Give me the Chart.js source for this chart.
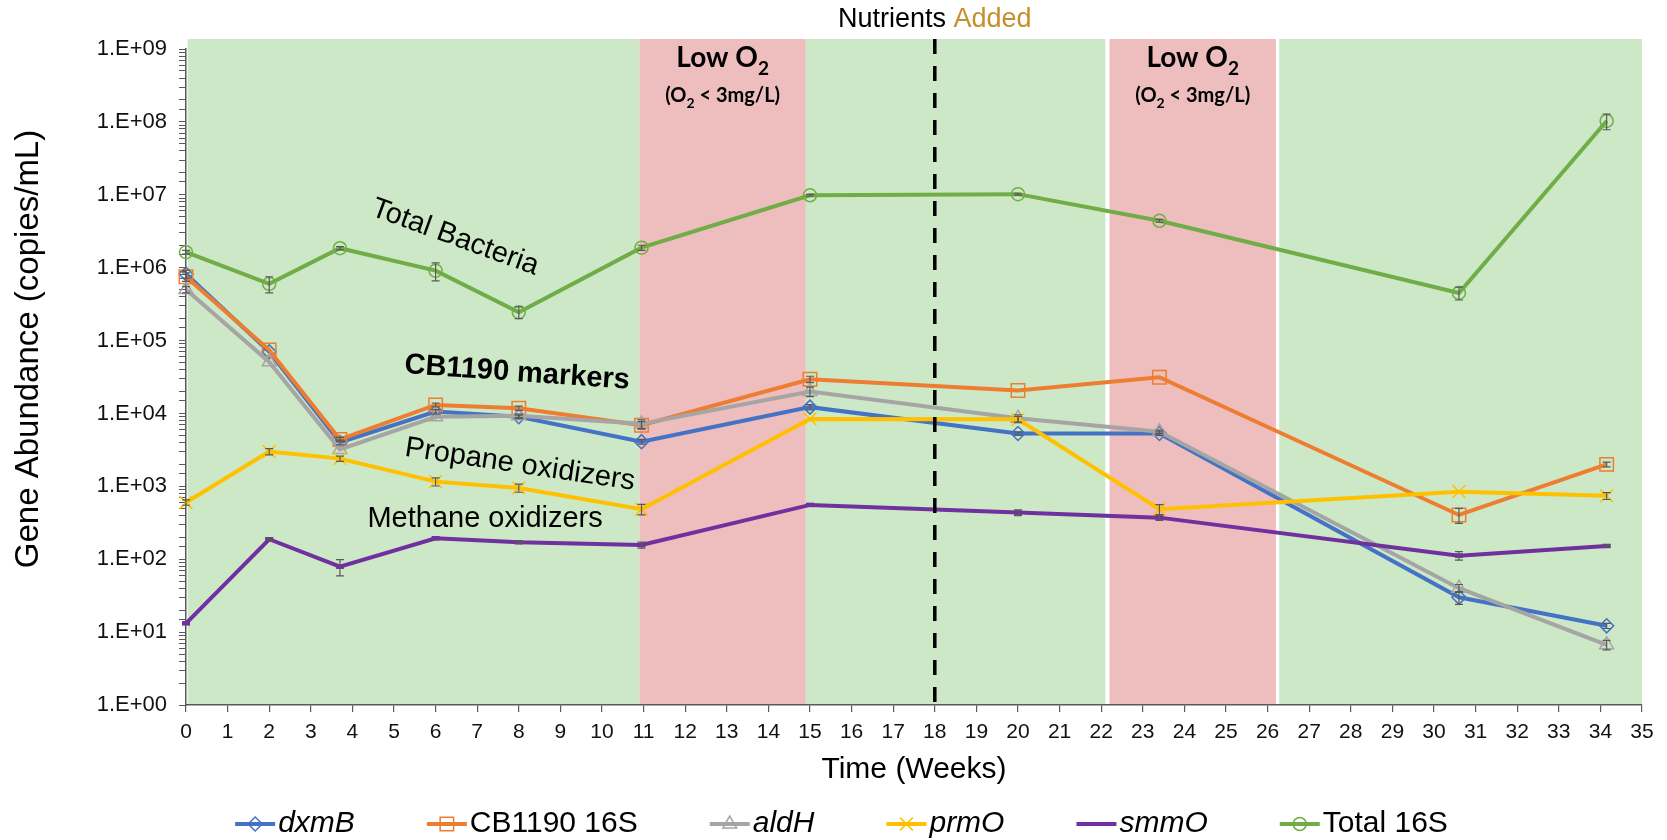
<!DOCTYPE html>
<html>
<head>
<meta charset="utf-8">
<script src="https://cdn.jsdelivr.net/npm/chart.js@4.4.1/dist/chart.umd.min.js"></script>
<style>
  html, body { margin: 0; padding: 0; background: #fff; }
</style>
</head>
<body>
<canvas id="myChart" width="1667" height="840"></canvas>
<script>
// sampling times (weeks)
const weeks = [0, 2, 3.7, 6, 8, 10.95, 15, 20, 23.4, 30.6, 34.15]

// gene abundance (copies/mL) and error (+/-)
const dxmB = [8.2e5, 7.0e4, 4.0e3, 1.06e4, 9.0e3, 4.1e3, 1.22e4, 5.3e3, 5.3e3, 30, 12.2]
const dxmBErr = [1e5, 0, 300, 800, 500, 300, 1000, 300, 300, 6, 1]

const cb1190 = [7.5e5, 7.4e4, 4.4e3, 1.31e4, 1.18e4, 6.9e3, 2.94e4, 2.06e4, 3.14e4, 405, 2.0e3]
const cb1190Err = [1e5, 0, 300, 800, 800, 800, 3000, 0, 0, 95, 150]

const aldH = [5.0e5, 5.1e4, 3.2e3, 9.0e3, 9.3e3, 7.2e3, 2.0e4, 8.6e3, 5.6e3, 40, 6.7]
const aldHErr = [5e4, 0, 0, 0, 500, 1000, 3000, 1000, 300, 5, 1]

const prmO = [600, 3.0e3, 2.4e3, 1.16e3, 950, 485, 8.4e3, 8.3e3, 485, 845, 740]
const prmOErr = [50, 300, 200, 150, 120, 80, 0, 800, 75, 0, 80]

const smmO = [13.2, 188, 79, 194, 171, 157, 556, 436, 372, 112, 152]
const smmOErr = [0, 8, 20, 0, 5, 15, 0, 40, 30, 15, 5]

const total16S = [1.63e6, 6.0e5, 1.85e6, 9.1e5, 2.45e5, 1.88e6, 9.85e6, 1.02e7, 4.4e6, 4.5e5, 1.03e8]
const total16SErr = [1e5, 1.5e5, 1e5, 2.5e5, 4.5e4, 1.5e5, 3e5, 3e5, 2e5, 9e4, 2.5e7]

// oxygen phases (weeks)
const bandStart = [0.04, 10.9, 14.9, 22.2, 26.28]
const bandEnd = [10.9, 14.9, 22.1, 26.2, 35]
const bandLowO2 = [false, true, false, true, false]
const nutrientWeek = 18

const FONT = '"Liberation Sans", Arial, sans-serif'

const notes = [
    { text: 'Total Bacteria', week: 6.47, value: 2.6e6, angle: 20, bold: false },
    { text: 'CB1190 markers', week: 7.96, value: 3.6e4, angle: 4, bold: true },
    { text: 'Propane oxidizers', week: 8.03, value: 1.97e3, angle: 8.5, bold: false },
    { text: 'Methane oxidizers', week: 7.19, value: 357, angle: 0, bold: false },
]

function pts(values) {
    return values.map((v, i) => ({ x: weeks[i], y: v }))
}

function series(label, values, errors, color, style, radius, italic, order) {
    return {
        label: label,
        data: pts(values),
        errors: errors,
        italicLabel: italic,
        borderColor: color,
        backgroundColor: color,
        borderWidth: 4,
        pointStyle: style,
        pointRadius: radius,
        pointHoverRadius: radius,
        pointBorderColor: color,
        pointBackgroundColor: 'rgba(0,0,0,0)',
        pointBorderWidth: 1.5,
        tension: 0,
        clip: false,
        order: order
    }
}

const datasets = [
    series('dxmB', dxmB, dxmBErr, '#4472C4', 'rectRot', 7, true, 6),
    series('CB1190 16S', cb1190, cb1190Err, '#ED7D31', 'rect', 9.5, false, 5),
    series('aldH', aldH, aldHErr, '#A5A5A5', 'triangle', 8, true, 4),
    series('prmO', prmO, prmOErr, '#FFC000', 'crossRot', 9, true, 3),
    series('smmO', smmO, smmOErr, '#7030A0', 'line', 4, true, 2),
    series('Total 16S', total16S, total16SErr, '#70AD47', 'circle', 6.5, false, 1),
]
datasets[4].pointBorderWidth = 4.5

function drawSubText(ctx, parts, cx, cy, size, subSize) {
    // parts: [text, isSub]
    let widths = parts.map(p => {
        ctx.font = 'bold ' + (p[1] ? subSize : size) + 'px Lato, "Open Sans", sans-serif'
        return ctx.measureText(p[0]).width
    })
    let total = widths.reduce((a, b) => a + b, 0)
    let xx = cx - total / 2
    parts.forEach((p, i) => {
        ctx.font = 'bold ' + (p[1] ? subSize : size) + 'px Lato, "Open Sans", sans-serif'
        ctx.fillText(p[0], xx, p[1] ? cy + size * 0.3 : cy)
        xx += widths[i]
    })
}

const decorations = {
    id: 'decorations',
    beforeDraw(chart) {
        const { ctx, chartArea, scales: { x } } = chart
        ctx.save()
        bandStart.forEach((start, i) => {
            const l = x.getPixelForValue(start)
            const r = x.getPixelForValue(bandEnd[i])
            ctx.fillStyle = bandLowO2[i] ? '#eebdbd' : '#cde8c6'
            ctx.fillRect(l, chartArea.top - 10, r - l, chartArea.bottom - chartArea.top + 10)
        })
        ctx.restore()
    },
    afterDatasetsDraw(chart) {
        const { ctx, chartArea, scales: { x, y } } = chart
        ctx.save()

        // error bars
        ctx.strokeStyle = '#595959'
        ctx.lineWidth = 1.2
        chart.data.datasets.forEach(ds => {
            ds.data.forEach((p, j) => {
                const e = ds.errors[j]
                if (!e) return
                const px = x.getPixelForValue(p.x)
                const top = y.getPixelForValue(p.y + e)
                const bot = y.getPixelForValue(p.y - e)
                ctx.beginPath()
                ctx.moveTo(px, top); ctx.lineTo(px, bot)
                ctx.moveTo(px - 4, top); ctx.lineTo(px + 4, top)
                ctx.moveTo(px - 4, bot); ctx.lineTo(px + 4, bot)
                ctx.stroke()
            })
        })

        // nutrients added line
        const nx = x.getPixelForValue(nutrientWeek)
        ctx.strokeStyle = '#000'
        ctx.lineWidth = 3.5
        ctx.setLineDash([15, 12])
        ctx.beginPath()
        ctx.moveTo(nx, chartArea.top - 10)
        ctx.lineTo(nx, chartArea.bottom)
        ctx.stroke()
        ctx.setLineDash([])

        // series notes
        ctx.fillStyle = '#000'
        ctx.textAlign = 'center'
        ctx.textBaseline = 'middle'
        notes.forEach(n => {
            ctx.save()
            ctx.translate(x.getPixelForValue(n.week), y.getPixelForValue(n.value))
            ctx.rotate(n.angle * Math.PI / 180)
            ctx.font = (n.bold ? 'bold ' : '') + '29px ' + FONT
            ctx.fillText(n.text, 0, 0)
            ctx.restore()
        })

        // low oxygen labels
        ctx.textAlign = 'left'
        ctx.textBaseline = 'alphabetic'
        bandStart.forEach((start, i) => {
            if (!bandLowO2[i]) return
            const cx = x.getPixelForValue((start + bandEnd[i]) / 2)
            drawSubText(ctx, [['Low O', false], ['2', true]], cx, chartArea.top + 18, 28, 19)
            drawSubText(ctx, [['(O', false], ['2', true], [' < 3mg/L)', false]], cx, chartArea.top + 53, 20, 14)
        })
        ctx.restore()
    },
    afterDraw(chart) {
        const { ctx, chartArea, scales: { x } } = chart
        ctx.save()

        // nutrients added header
        ctx.font = '27px ' + FONT
        ctx.textBaseline = 'middle'
        ctx.textAlign = 'left'
        const w1 = ctx.measureText('Nutrients ').width
        const w2 = ctx.measureText('Added').width
        let hx = x.getPixelForValue(nutrientWeek) - (w1 + w2) / 2
        ctx.fillStyle = '#000'
        ctx.fillText('Nutrients ', hx, 20)
        ctx.fillStyle = '#C58F2C'
        ctx.fillText('Added', hx + w1, 20)

        // y axis title
        ctx.save()
        ctx.translate(29, 349)
        ctx.rotate(-Math.PI / 2)
        ctx.textAlign = 'center'
        ctx.fillStyle = '#000'
        ctx.font = '33px ' + FONT
        ctx.fillText('Gene Abundance (copies/mL)', 0, 0)
        ctx.restore()

        // legend
        const lineLen = 40, textGap = 3, itemGap = 72, ly = 824
        const items = chart.data.datasets.map(ds => {
            ctx.font = (ds.italicLabel ? 'italic ' : '') + '30px ' + FONT
            return { ds: ds, font: ctx.font, w: ctx.measureText(ds.label).width }
        })
        const total = items.reduce((s, it) => s + lineLen + textGap + it.w, 0) + itemGap * (items.length - 1)
        let lx = chart.width / 2 + 8 - total / 2
        items.forEach(it => {
            const ds = it.ds
            ctx.strokeStyle = ds.borderColor
            ctx.lineWidth = ds.borderWidth
            ctx.beginPath()
            ctx.moveTo(lx, ly)
            ctx.lineTo(lx + lineLen, ly)
            ctx.stroke()
            if (ds.pointStyle !== 'line' && Chart.helpers && Chart.helpers.drawPoint) {
                ctx.lineWidth = ds.pointBorderWidth
                ctx.strokeStyle = ds.pointBorderColor
                ctx.fillStyle = 'rgba(255,255,255,0)'
                Chart.helpers.drawPoint(ctx, { pointStyle: ds.pointStyle, radius: ds.pointRadius, rotation: 0, borderWidth: ds.pointBorderWidth }, lx + lineLen / 2, ly)
            }
            ctx.font = it.font
            ctx.fillStyle = '#000'
            ctx.textAlign = 'left'
            ctx.textBaseline = 'middle'
            ctx.fillText(ds.label, lx + lineLen + textGap, ly)
            lx += lineLen + textGap + it.w + itemGap
        })
        ctx.restore()
    }
}

Chart.defaults.font.family = FONT
Chart.defaults.color = '#000'

const ctx = document.getElementById('myChart').getContext('2d')

const chart = new Chart(ctx, {
    type: 'line',
    data: { datasets: datasets },
    options: {
        responsive: false,
        animation: false,
        layout: { padding: { top: 49, right: 25, bottom: 0, left: 0 } },
        plugins: {
            legend: { display: false },
            tooltip: { enabled: false }
        },
        scales: {
            x: {
                type: 'linear',
                min: 0,
                max: 35,
                offset: false,
                afterFit: scale => { scale.height = 135 },
                ticks: {
                    stepSize: 1,
                    autoSkip: false,
                    maxRotation: 0,
                    padding: 8,
                    color: '#111',
                    font: { size: 21 }
                },
                grid: { drawOnChartArea: false, tickLength: 7, color: '#595959', lineWidth: 1.2 },
                border: { color: '#595959', width: 1.5 },
                title: {
                    display: true,
                    text: 'Time (Weeks)',
                    color: '#000',
                    font: { size: 30 },
                    padding: { top: 0, bottom: 52 }
                }
            },
            y: {
                type: 'logarithmic',
                min: 1,
                max: 1e9,
                afterFit: scale => { scale.width = 186 },
                ticks: {
                    autoSkip: false,
                    padding: 12,
                    color: '#111',
                    font: { size: 22 },
                    callback: value => {
                        const l = Math.log10(value)
                        if (Math.abs(l - Math.round(l)) > 1e-9) return ''
                        return '1.E+' + String(Math.round(l)).padStart(2, '0')
                    }
                },
                grid: { drawOnChartArea: false, tickLength: 7, color: '#595959', lineWidth: 1 },
                border: { color: '#595959', width: 1.5 },
                title: { display: false }
            }
        }
    },
    plugins: [decorations]
})
</script>
</body>
</html>
